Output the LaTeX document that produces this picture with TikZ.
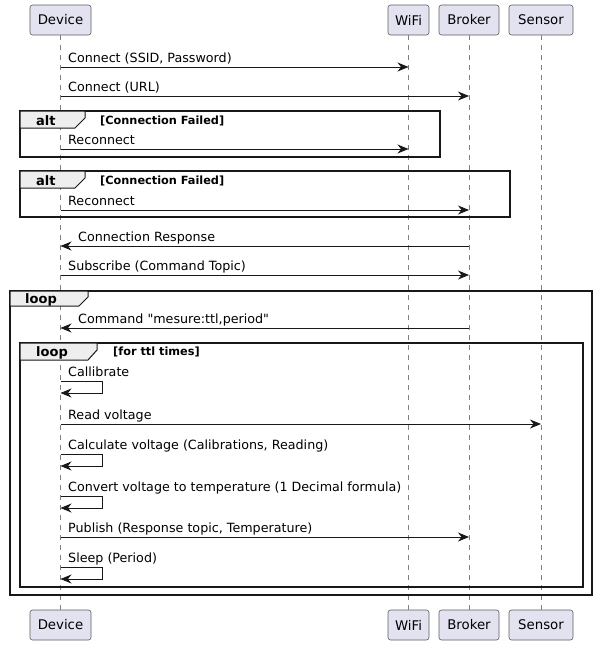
\documentclass[tikz,border=0pt]{standalone}
\usepackage{fontspec}
\setmainfont{DejaVu Sans}
\usetikzlibrary{arrows.meta}
\definecolor{partfill}{HTML}{E2E2F0}
\definecolor{tabfill}{HTML}{EEEEEE}
\definecolor{ink}{HTML}{181818}
% straight double quote, bypassing the TeX ligature mapping
\newcommand\straightdq{\XeTeXglyph\XeTeXcharglyph"22\relax}

\begin{document}
\begin{tikzpicture}[x=1pt,y=-1pt,
  part/.style={draw=ink!70, line width=0.6pt, fill=partfill, rounded corners=2.5pt,
               minimum height=30pt, inner sep=0pt, font=\fontsize{13.3}{16}\selectfont},
  life/.style={draw=ink!55, line width=0.6pt, dash pattern=on 5pt off 5pt},
  msg/.style={draw=ink, line width=0.9pt, -{Stealth[length=11pt,width=9pt,inset=3.5pt]}},
  lbl/.style={anchor=base west, inner sep=0pt, font=\fontsize{12.7}{15}\selectfont},
  grp/.style={draw=ink, line width=1.5pt},
  tab/.style={draw=ink, line width=1pt, fill=tabfill},
  kw/.style={anchor=base west, inner sep=0pt, font=\bfseries\fontsize{13}{15}\selectfont},
  cond/.style={anchor=base west, inner sep=0pt, font=\bfseries\fontsize{11.3}{13}\selectfont},
]
\useasboundingbox (0,0) rectangle (597,645);

% participants, top and bottom
\node[part, minimum width=61pt] (devT)    at (60.5,20)  {Device};
\node[part, minimum width=41pt] (wifiT)   at (408.5,20) {WiFi};
\node[part, minimum width=60pt] (brokerT) at (469,20)   {Broker};
\node[part, minimum width=64pt] (sensorT) at (541,20)   {Sensor};
\node[part, minimum width=61pt] (devB)    at (60.5,625)  {Device};
\node[part, minimum width=41pt] (wifiB)   at (408.5,625) {WiFi};
\node[part, minimum width=60pt] (brokerB) at (469,625)   {Broker};
\node[part, minimum width=64pt] (sensorB) at (541,625)   {Sensor};

% lifelines
\draw[life] (devT.south) -- (devB.north);
\draw[life] (wifiT.south) -- (wifiB.north);
\draw[life] (brokerT.south) -- (brokerB.north);
\draw[life] (sensorT.south) -- (sensorB.north);

% group frames
\draw[grp] (20,111) rectangle (440,157);
\draw[tab] (20,111) -- (85,111) -- (85,118) -- (75,128) -- (20,128) -- cycle;
\node[kw] (alt1) at (36,125) {alt};
\node[cond] (alt1c) at (100,124) {[Connection Failed]};

\draw[grp] (20,171) rectangle (510,217);
\draw[tab] (20,171) -- (85,171) -- (85,178) -- (75,188) -- (20,188) -- cycle;
\node[kw] (alt2) at (36,185) {alt};
\node[cond] (alt2c) at (100,184) {[Connection Failed]};

\draw[grp] (10,291) rectangle (592,595);
\draw[tab] (10,291) -- (88,291) -- (88,297) -- (79,306) -- (10,306) -- cycle;
\node[kw] (loop1) at (25,303) {loop};

\draw[grp] (20,343) rectangle (583,587);
\draw[tab] (20,343) -- (97,343) -- (97,350) -- (88,360) -- (20,360) -- cycle;
\node[kw] (loop2) at (36,356) {loop};
\node[cond] (loop2c) at (113,355) {[for ttl times]};

% message rows
\coordinate (r1) at (0,67);
\coordinate (r2) at (0,96);
\coordinate (r3) at (0,149);
\coordinate (r4) at (0,210);
\coordinate (r5) at (0,246);
\coordinate (r6) at (0,275);
\coordinate (r7) at (0,328);
\coordinate (r8) at (0,381);
\coordinate (r9) at (0,424);
\coordinate (r10) at (0,454);
\coordinate (r11) at (0,496);
\coordinate (r12) at (0,537);
\coordinate (r13) at (0,567);

\draw[msg] (devT |- r1) -- (wifiT |- r1);
\node[lbl] (t1) at (68,62) {Connect (SSID, Password)};
\draw[msg] (devT |- r2) -- (brokerT |- r2);
\node[lbl] (t2) at (68,91) {Connect (URL)};
\draw[msg] (devT |- r3) -- (wifiT |- r3);
\node[lbl] (t3) at (68,144) {Reconnect};
\draw[msg] (devT |- r4) -- (brokerT |- r4);
\node[lbl] (t4) at (68,205) {Reconnect};
\draw[msg] (brokerT |- r5) -- (devT |- r5);
\node[lbl] (t5) at (78,241) {Connection Response};
\draw[msg] (devT |- r6) -- (brokerT |- r6);
\node[lbl] (t6) at (68,270) {Subscribe (Command Topic)};
\draw[msg] (brokerT |- r7) -- (devT |- r7);
\node[lbl] (t7) at (78,323) {Command \straightdq mesure:ttl,period\straightdq};
\draw[msg] (devT |- r8) -- ++(42,0) -- ++(0,12) -- ++(-42,0);
\node[lbl] (t8) at (68,376.5) {Callibrate};
\draw[msg] (devT |- r9) -- (sensorT |- r9);
\node[lbl] (t9) at (68,419) {Read voltage};
\draw[msg] (devT |- r10) -- ++(42,0) -- ++(0,12) -- ++(-42,0);
\node[lbl] (t10) at (68,449.5) {Calculate voltage (Calibrations, Reading)};
\draw[msg] (devT |- r11) -- ++(42,0) -- ++(0,12) -- ++(-42,0);
\node[lbl] (t11) at (68,491.5) {Convert voltage to temperature (1 Decimal formula)};
\draw[msg] (devT |- r12) -- (brokerT |- r12);
\node[lbl] (t12) at (68,532) {Publish (Response topic, Temperature)};
\draw[msg] (devT |- r13) -- ++(42,0) -- ++(0,12) -- ++(-42,0);
\node[lbl] (t13) at (68,562.5) {Sleep (Period)};
\end{tikzpicture}
\end{document}
